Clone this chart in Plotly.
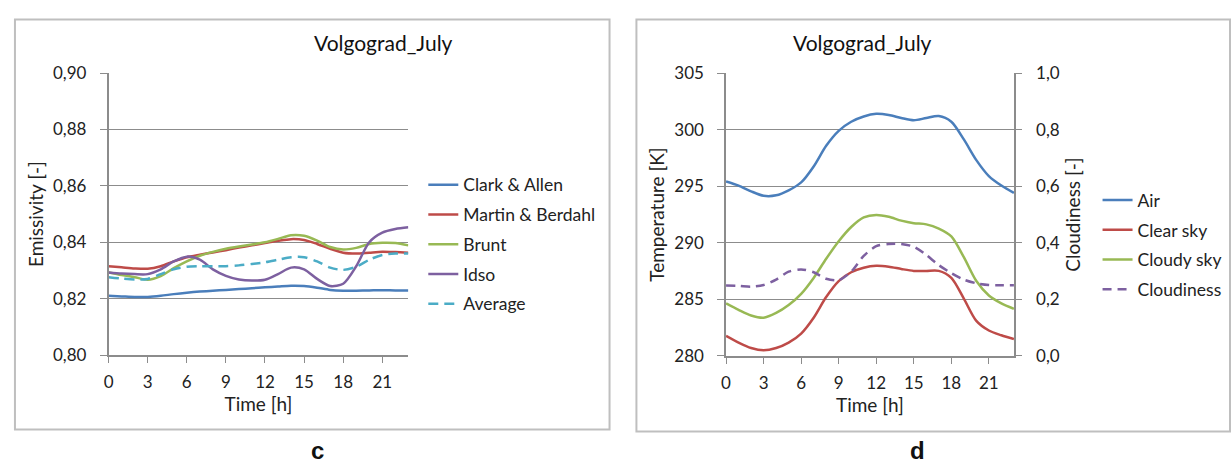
import plotly.graph_objects as go

# Hour of day
hours = list(range(24))

# Atmospheric emissivity models, Volgograd, July
clark_allen = [0.8210, 0.8208, 0.8206, 0.8206, 0.8210, 0.8216, 0.8221, 0.8225,
               0.8228, 0.8231, 0.8234, 0.8237, 0.8240, 0.8243, 0.8246, 0.8245,
               0.8239, 0.8231, 0.8228, 0.8228, 0.8229, 0.8230, 0.8229, 0.8229]
martin_berdahl = [0.8315, 0.8311, 0.8307, 0.8306, 0.8315, 0.8332, 0.8347, 0.8356,
                  0.8364, 0.8372, 0.8381, 0.8389, 0.8397, 0.8405, 0.8411, 0.8408,
                  0.8394, 0.8377, 0.8363, 0.8360, 0.8363, 0.8366, 0.8365, 0.8363]
brunt = [0.8293, 0.8284, 0.8276, 0.8267, 0.8280, 0.8308, 0.8332, 0.8352,
         0.8366, 0.8377, 0.8385, 0.8392, 0.8400, 0.8412, 0.8425, 0.8423,
         0.8406, 0.8383, 0.8374, 0.8380, 0.8394, 0.8398, 0.8397, 0.8389]
idso = [0.8293, 0.8289, 0.8287, 0.8287, 0.8304, 0.8332, 0.8349, 0.8338,
        0.8304, 0.8281, 0.8268, 0.8264, 0.8267, 0.8287, 0.8310, 0.8304,
        0.8270, 0.8245, 0.8253, 0.8315, 0.8400, 0.8434, 0.8447, 0.8453]
average = [0.8276, 0.8271, 0.8268, 0.8270, 0.8287, 0.8304, 0.8313, 0.8315,
           0.8315, 0.8315, 0.8318, 0.8323, 0.8329, 0.8338, 0.8347, 0.8347,
           0.8332, 0.8310, 0.8302, 0.8313, 0.8338, 0.8355, 0.8360, 0.8360]

# Air and sky temperatures [K] and cloudiness [-]
air = [295.43, 295.06, 294.55, 294.16, 294.20, 294.64, 295.34, 296.75,
       298.58, 299.90, 300.70, 301.17, 301.40, 301.30, 301.03, 300.83,
       301.03, 301.20, 300.70, 299.14, 297.31, 295.90, 295.06, 294.41]
clear_sky = [281.77, 281.18, 280.70, 280.50, 280.70, 281.18, 281.98, 283.38,
             285.21, 286.62, 287.40, 287.80, 287.97, 287.89, 287.69, 287.52,
             287.52, 287.52, 286.90, 285.07, 283.10, 282.25, 281.83, 281.49]
cloudy_sky = [284.65, 284.08, 283.58, 283.38, 283.80, 284.50, 285.49, 286.90,
              288.59, 290.14, 291.40, 292.25, 292.47, 292.30, 291.96, 291.74,
              291.63, 291.26, 290.56, 288.73, 286.62, 285.35, 284.65, 284.17]
cloudiness = [0.249, 0.248, 0.245, 0.251, 0.270, 0.298, 0.306, 0.296,
              0.273, 0.268, 0.298, 0.354, 0.388, 0.396, 0.396, 0.386,
              0.357, 0.321, 0.293, 0.270, 0.257, 0.251, 0.250, 0.250]

xticks = [0, 3, 6, 9, 12, 15, 18, 21]

W, H = 1232, 473
FONT = "Lato"
GRID = "#8c8c8c"
AXIS = "#8c8c8c"
TXT = "#222222"


def px(x):
    return x / W


def py(y):
    return 1 - y / H


fig = go.Figure()

left_series = [
    ("Clark & Allen", clark_allen, "#4A7EBB", "solid"),
    ("Martin & Berdahl", martin_berdahl, "#BE4B48", "solid"),
    ("Brunt", brunt, "#98B954", "solid"),
    ("Idso", idso, "#7D60A0", "solid"),
    ("Average", average, "#4BACC6", "10px,6px"),
]
for i, (name, vals, col, dash) in enumerate(left_series):
    fig.add_trace(go.Scatter(
        x=hours, y=vals, name=name, mode="lines",
        line=dict(color=col, width=2.5, shape="spline", smoothing=0.8, dash=dash),
        xaxis="x", yaxis="y", legend="legend", legendgroup=f"l{i}",
    ))

right_series = [
    ("Air", air, "#4A7EBB", "solid", "y2"),
    ("Clear sky", clear_sky, "#BE4B48", "solid", "y2"),
    ("Cloudy sky", cloudy_sky, "#98B954", "solid", "y2"),
    ("Cloudiness", cloudiness, "#7D60A0", "9px,6px", "y3"),
]
for i, (name, vals, col, dash, ya) in enumerate(right_series):
    fig.add_trace(go.Scatter(
        x=hours, y=vals, name=name, mode="lines",
        line=dict(color=col, width=2.5, shape="spline", smoothing=0.8, dash=dash),
        xaxis="x2", yaxis=ya, legend="legend2", legendgroup=f"r{i}",
    ))

tickfont = dict(family=FONT, size=17, color=TXT)
titlefont = dict(family=FONT, size=19, color=TXT)
legfont = dict(family=FONT, size=17.5, color=TXT)

xcommon = dict(
    range=[0, 23], tickvals=xticks, ticks="outside", ticklen=6, tickcolor=AXIS,
    showline=True, linecolor=AXIS, linewidth=1.5, showgrid=False, zeroline=False,
    tickfont=tickfont, ticklabelstandoff=5,
)

fig.update_layout(
    width=W, height=H,
    margin=dict(l=0, r=0, t=0, b=0),
    paper_bgcolor="white", plot_bgcolor="white",
    separators=", ",
    showlegend=True,
    xaxis=dict(domain=[px(104), px(405)], anchor="y",
               title=dict(text="Time [h]", font=titlefont, standoff=7), **xcommon),
    yaxis=dict(domain=[py(360), py(65)], anchor="x", range=[0.80, 0.90], dtick=0.02,
               tickformat=".2f", showgrid=True, gridcolor=GRID, gridwidth=1.2,
               showline=True, linecolor=AXIS, linewidth=1.5, zeroline=False,
               ticks="outside", ticklen=7, tickcolor=GRID, tickfont=tickfont,
               ticklabelstandoff=10,
               title=dict(text="Emissivity [-]", font=titlefont, standoff=4)),
    xaxis2=dict(domain=[px(724), px(1013)], anchor="y2",
                title=dict(text="Time [h]", font=titlefont, standoff=7), **xcommon),
    yaxis2=dict(domain=[py(361), py(65)], anchor="x2", range=[280, 305], dtick=5,
                showgrid=True, gridcolor=GRID, gridwidth=1.2,
                showline=True, linecolor=AXIS, linewidth=1.5, zeroline=False,
                ticks="outside", ticklen=7, tickcolor=GRID, tickfont=tickfont,
                ticklabelstandoff=10,
                title=dict(text="Temperature [K]", font=titlefont, standoff=5)),
    yaxis3=dict(overlaying="y2", side="right", anchor="x2", range=[0, 1], dtick=0.2,
                tickformat=".1f", showgrid=False, showline=True, linecolor=AXIS,
                linewidth=1.5, zeroline=False, ticks="outside", ticklen=6,
                tickcolor=GRID, tickfont=tickfont, ticklabelstandoff=11,
                title=dict(text="Cloudiness [-]", font=titlefont, standoff=8)),
    legend=dict(x=px(420), y=py(163), xanchor="left", yanchor="top",
                font=legfont, tracegroupgap=4,
                bgcolor="rgba(0,0,0,0)", itemwidth=30),
    legend2=dict(x=px(1097), y=py(179), xanchor="left", yanchor="top",
                 font=legfont, tracegroupgap=4,
                 bgcolor="rgba(0,0,0,0)", itemwidth=30),
)

# Panel frames
for x0, y0, x1, y1 in [(10, 9, 607, 438), (634, 9, 1230, 440)]:
    fig.add_shape(type="rect", xref="paper", yref="paper",
                  x0=px(x0), y0=py(y1), x1=px(x1), y1=py(y0),
                  line=dict(color="#bfbfbf", width=2), fillcolor="rgba(0,0,0,0)")

# Panel titles and letters
for xc, label in [(308, "Volgograd_July"), (933, "Volgograd_July")]:
    fig.add_annotation(x=px(xc), y=py(33), xref="paper", yref="paper",
                       text=label, showarrow=False, yanchor="middle",
                       font=dict(family=FONT, size=21, color="#111111"))
for xc, label in [(305, "c"), (926, "d")]:
    fig.add_annotation(x=px(xc), y=py(460), xref="paper", yref="paper",
                       text=f"<b>{label}</b>", showarrow=False, yanchor="middle",
                       font=dict(family="Liberation Sans", size=24, color="#111111"))

fig.write_html("out.html")
